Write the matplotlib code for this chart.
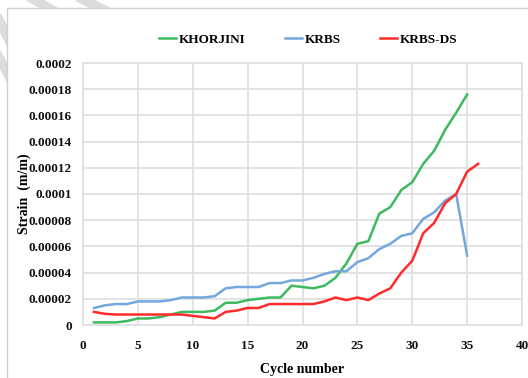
import numpy as np
import matplotlib.pyplot as plt
from matplotlib.lines import Line2D
from matplotlib.patches import Rectangle

plt.rcParams['font.family'] = 'Liberation Serif'
plt.rcParams['font.weight'] = 'bold'

# Strain per loading cycle for the three mixes
cycles = np.arange(1, 37)
khorjini = [0.000002, 0.000002, 0.000002, 0.000003, 0.000005, 0.000005, 0.000006,
            0.000008, 0.00001, 0.00001, 0.00001, 0.000011, 0.000017, 0.000017,
            0.000019, 0.00002, 0.000021, 0.000021, 0.00003, 0.000029, 0.000028,
            0.00003, 0.000036, 0.000047, 0.000062, 0.000064, 0.000085, 0.00009,
            0.000103, 0.000109, 0.000123, 0.000133, 0.000149, 0.000162, 0.000176]
krbs = [0.000013, 0.000015, 0.000016, 0.000016, 0.000018, 0.000018, 0.000018,
        0.000019, 0.000021, 0.000021, 0.000021, 0.000022, 0.000028, 0.000029,
        0.000029, 0.000029, 0.000032, 0.000032, 0.000034, 0.000034, 0.000036,
        0.000039, 0.000041, 0.000041, 0.000048, 0.000051, 0.000058, 0.000062,
        0.000068, 0.00007, 0.000081, 0.000086, 0.000095, 0.0001, 0.000053]
krbs_ds = [0.00001, 0.0000085, 0.000008, 0.000008, 0.000008, 0.000008, 0.000008,
           0.000008, 0.000008, 0.000007, 0.000006, 0.000005, 0.00001, 0.000011,
           0.000013, 0.000013, 0.000016, 0.000016, 0.000016, 0.000016, 0.000016,
           0.000018, 0.000021, 0.000019, 0.000021, 0.000019, 0.000024, 0.000028,
           0.00004, 0.000049, 0.00007, 0.000078, 0.000093, 0.0001, 0.000117, 0.000123]

y_ticks = [0, 0.00002, 0.00004, 0.00006, 0.00008, 0.0001, 0.00012, 0.00014,
           0.00016, 0.00018, 0.0002]
y_labels = ['0', '0.00002', '0.00004', '0.00006', '0.00008', '0.0001',
            '0.00012', '0.00014', '0.00016', '0.00018', '0.0002']

W, H = 528, 378
fig = plt.figure(figsize=(W / 100, H / 100), dpi=100)

# faint diagonal stripes behind the chart box
stripe_kw = dict(color='#dcdcdc', linewidth=7, transform=fig.transFigure, zorder=0)
for (x0, y0), (x1, y1) in [((28, -4), (52, 10)), ((76, -4), (104, 10)),
                           ((-4, 14), (10, 42)), ((-4, 52), (10, 78))]:
    fig.add_artist(Line2D([x0 / W, x1 / W], [1 - y0 / H, 1 - y1 / H], **stripe_kw))
fig.add_artist(Rectangle((7 / W, -0.05), 1, 1 - 8 / H + 0.05, transform=fig.transFigure,
                         facecolor='white', edgecolor='#d0d0d0', linewidth=1, zorder=1))

ax = fig.add_axes([83 / W, 1 - 325 / H, (522 - 83) / W, (325 - 63) / H])
ax.set_zorder(2)
ax.patch.set_alpha(0)

ax.plot(cycles[:len(khorjini)], khorjini, color='#3dba5f', lw=1.8, label='KHORJINI')
ax.plot(cycles[:len(krbs)], krbs, color='#74a7dc', lw=1.8, label='KRBS')
ax.plot(cycles[:len(krbs_ds)], krbs_ds, color='#ff2b2b', lw=1.8, label='KRBS-DS')

ax.set_xlim(0, 40)
ax.set_ylim(0, 0.0002)
ax.set_xticks(range(0, 41, 5))
ax.set_yticks(y_ticks)
ax.set_yticklabels(y_labels)
ax.tick_params(length=0, labelsize=9.5, colors='#111111')
ax.tick_params(axis='x', pad=11)
ax.tick_params(axis='y', pad=8)
ax.grid(color='#e0e0e0', linewidth=1.3)
ax.set_axisbelow(True)
for s in ax.spines.values():
    s.set_color('#e0e0e0')
    s.set_linewidth(1.3)

ax.set_xlabel('Cycle number', fontsize=10, fontweight='bold', labelpad=8)
ax.set_ylabel('Strain  (m/m)', fontsize=10, fontweight='bold', labelpad=-2)

fig.legend(loc='center', bbox_to_anchor=(308 / W, 1 - 40 / H), ncol=3, frameon=False,
           fontsize=9.5, handlelength=1.3, handletextpad=0.2, columnspacing=3.0)

fig.savefig('out.png', dpi=100)
